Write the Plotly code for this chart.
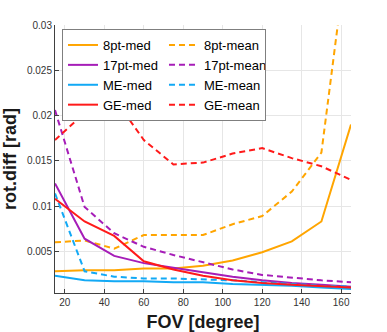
import plotly.graph_objects as go

fov = [15, 30, 45, 60, 75, 90, 105, 120, 135, 150, 165]

pt8_med = [0.0028, 0.0029, 0.0029, 0.0031, 0.0031, 0.0034, 0.0040, 0.0049, 0.0061, 0.0083, 0.0190]
pt8_mean = [0.0060, 0.0062, 0.0053, 0.0068, 0.0068, 0.0068, 0.0080, 0.0089, 0.0116, 0.0159, 0.0414]
pt17_med = [0.0125, 0.0064, 0.0045, 0.0037, 0.0032, 0.0027, 0.0022, 0.0018, 0.0015, 0.0013, 0.0011]
pt17_mean = [0.0206, 0.0099, 0.0070, 0.0055, 0.0046, 0.0038, 0.0030, 0.0024, 0.0021, 0.0018, 0.0016]
me_med = [0.0023, 0.0018, 0.0017, 0.0017, 0.0016, 0.0016, 0.0014, 0.0013, 0.0012, 0.0010, 0.00085]
me_mean = [0.0114, 0.0028, 0.0022, 0.0020, 0.0020, 0.0019, 0.0018, 0.0016, 0.0014, 0.0012, 0.0011]
ge_med = [0.0108, 0.0083, 0.0067, 0.0039, 0.0030, 0.0023, 0.0018, 0.0015, 0.0013, 0.00115, 0.0010]
ge_mean = [0.0173, 0.0203, 0.0219, 0.0173, 0.0146, 0.0148, 0.0158, 0.0164, 0.0153, 0.0144, 0.0129]

x_ticks = [20, 40, 60, 80, 100, 120, 140, 160]
y_ticks = [0.005, 0.01, 0.015, 0.02, 0.025, 0.03]
y_ticklabels = ["0.005", "0.01", "0.015", "0.02", "0.025", "0.03"]

ORANGE = "#FFA500"
PURPLE = "#A61DB8"
BLUE = "#12A9F5"
RED = "#FF1A1A"

series = [
    ("8pt-med", pt8_med, ORANGE, "solid"),
    ("8pt-mean", pt8_mean, ORANGE, "6px,4px"),
    ("17pt-med", pt17_med, PURPLE, "solid"),
    ("17pt-mean", pt17_mean, PURPLE, "6px,4px"),
    ("ME-med", me_med, BLUE, "solid"),
    ("ME-mean", me_mean, BLUE, "6px,4px"),
    ("GE-med", ge_med, RED, "solid"),
    ("GE-mean", ge_mean, RED, "6px,4px"),
]

fig = go.Figure()
for name, vals, color, dash in series:
    fig.add_trace(go.Scatter(
        x=fov, y=vals, name=name, mode="lines",
        line=dict(color=color, width=2, dash=dash),
    ))

font_family = "Liberation Sans, Arial, Helvetica, sans-serif"

fig.update_layout(
    width=387, height=332,
    margin=dict(l=55, r=36, t=25, b=39, autoexpand=False),
    paper_bgcolor="white", plot_bgcolor="white",
    font=dict(family=font_family, color="#262626"),
    showlegend=True,
    legend=dict(
        orientation="h",
        x=0.0236, y=0.985, xanchor="left", yanchor="top",
        entrywidth=56,
        bgcolor="white",
        bordercolor="#7f7f7f", borderwidth=1,
        font=dict(size=13, color="black", family=font_family),
        traceorder="normal",
    ),
    xaxis=dict(
        range=[15, 165],
        tickvals=x_ticks,
        ticks="inside", ticklen=4, tickcolor="#404040",
        showgrid=True, gridcolor="#E6E6E6", gridwidth=1,
        showline=True, linecolor="#404040", linewidth=1,
        zeroline=False, automargin=False,
        tickfont=dict(size=10, color="#333333"),
        title=dict(text="<b>FOV [degree]</b>", font=dict(size=18, color="#1a1a1a")),
    ),
    yaxis=dict(
        range=[0.0004, 0.03],
        tickvals=y_ticks, ticktext=y_ticklabels,
        ticks="inside", ticklen=4, tickcolor="#404040",
        showgrid=True, gridcolor="#E6E6E6", gridwidth=1,
        showline=True, linecolor="#404040", linewidth=1,
        zeroline=False, automargin=False,
        tickfont=dict(size=10, color="#333333"),
        title=dict(text="<b>rot.diff [rad]</b>", font=dict(size=18, color="#1a1a1a")),
    ),
)

fig.write_html(
    "out.html",
    config={"displayModeBar": False},
    post_script="document.body.style.margin='0px';",
)
